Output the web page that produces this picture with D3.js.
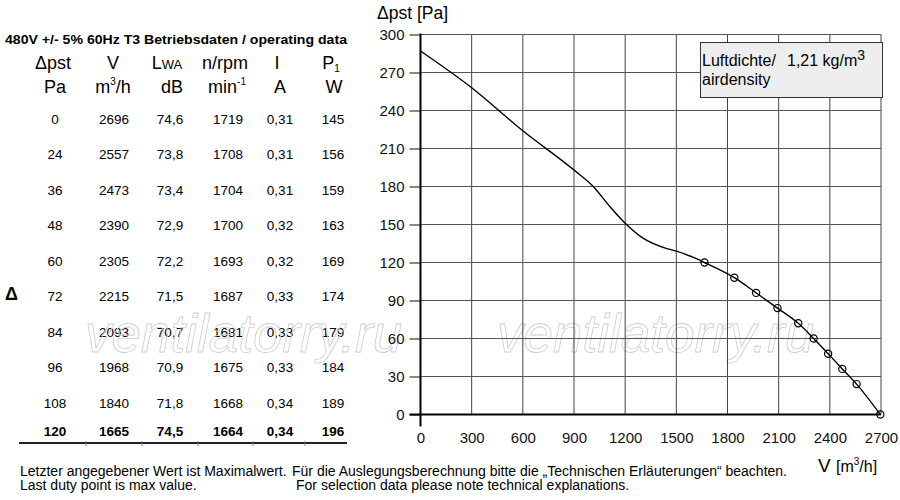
<!DOCTYPE html>
<html>
<head>
<meta charset="utf-8">
<script src="https://cdn.jsdelivr.net/npm/d3@7"></script>
<style>
  body { margin: 0; background: #fff; }
  svg { font-family: "Liberation Sans", Arial, Helvetica, sans-serif; }
</style>
</head>
<body>
<script>
// operating data table
let dp     = [0, 24, 36, 48, 60, 72, 84, 96, 108, 120];
let flow   = [2696, 2557, 2473, 2390, 2305, 2215, 2093, 1968, 1840, 1665];
let lwa    = ["74,6", "73,8", "73,4", "72,9", "72,2", "71,5", "70,7", "70,9", "71,8", "74,5"];
let rpm    = [1719, 1708, 1704, 1700, 1693, 1687, 1681, 1675, 1668, 1664];
let amps   = ["0,31", "0,31", "0,31", "0,32", "0,32", "0,33", "0,33", "0,33", "0,34", "0,34"];
let power  = [145, 156, 159, 163, 169, 174, 179, 184, 189, 196];

// upper part of the fan curve, left of the first duty point
let curveV = [0, 300, 600, 900, 1013, 1111, 1200, 1307, 1444, 1500, 1600];
let curveP = [287, 258, 224, 193, 180, 164, 151, 139, 131, 129, 124];

// axis ticks
let xTicks = [0, 300, 600, 900, 1200, 1500, 1800, 2100, 2400, 2700];
let yTicks = [0, 30, 60, 90, 120, 150, 180, 210, 240, 270, 300];

let width = 900, height = 500;

let svg = d3.select("body").append("svg")
    .attr("width", width).attr("height", height);

// ---------- table ----------
let table = svg.append("g");

table.append("text")
    .attr("x", 5).attr("y", 44)
    .attr("font-size", 13.5).attr("font-weight", "bold")
    .attr("textLength", 342).attr("lengthAdjust", "spacingAndGlyphs")
    .text("480V +/- 5% 60Hz T3 Betriebsdaten / operating data");

let colX = [55, 114, 170, 228, 280, 333];
let colSep = [86, 142, 198, 253, 305];

// header row 1
let h1 = table.append("g").attr("font-size", 18).attr("text-anchor", "middle");
h1.append("text").attr("x", 53).attr("y", 69).text("Δpst");
h1.append("text").attr("x", 113).attr("y", 69).text("V");
let lw = h1.append("text").attr("x", 167).attr("y", 69);
lw.append("tspan").text("L");
lw.append("tspan").attr("font-size", 13).text("WA");
h1.append("text").attr("x", 225).attr("y", 69).text("n/rpm");
h1.append("text").attr("x", 277).attr("y", 69).text("I");
let p1 = h1.append("text").attr("x", 331).attr("y", 69);
p1.append("tspan").text("P");
p1.append("tspan").attr("font-size", 10).attr("dy", 3).text("1");

// header row 2
let h2 = table.append("g").attr("font-size", 18).attr("text-anchor", "middle");
h2.append("text").attr("x", 55).attr("y", 93).text("Pa");
let m3 = h2.append("text").attr("x", 113).attr("y", 93);
m3.append("tspan").text("m");
m3.append("tspan").attr("font-size", 10).attr("dy", -8).text("3");
m3.append("tspan").attr("dy", 8).text("/h");
h2.append("text").attr("x", 172).attr("y", 93).text("dB");
let mn = h2.append("text").attr("x", 227).attr("y", 93);
mn.append("tspan").text("min");
mn.append("tspan").attr("font-size", 10).attr("dy", -8).text("-1");
h2.append("text").attr("x", 280).attr("y", 93).text("A");
h2.append("text").attr("x", 334).attr("y", 93).text("W");

// data rows
let rowY = d3.scaleLinear().domain([0, 8]).range([124, 407.5]);
let rows = dp.map((d, i) => [d, flow[i], lwa[i], rpm[i], amps[i], power[i]]);

let rowG = table.selectAll("g.row").data(rows).enter().append("g")
    .attr("class", "row")
    .attr("font-size", 13.5)
    .attr("text-anchor", "middle")
    .attr("font-weight", (d, i) => i === rows.length - 1 ? "bold" : "normal")
    .attr("transform", (d, i) => "translate(0," + (i < 9 ? rowY(i) : 436) + ")");

rowG.selectAll("text").data(d => d).enter().append("text")
    .attr("x", (d, j) => colX[j])
    .text(d => d);

table.append("text")
    .attr("x", 5).attr("y", 300)
    .attr("font-size", 18).attr("font-weight", "bold")
    .text("Δ");

table.append("line")
    .attr("x1", 19).attr("x2", 347).attr("y1", 443).attr("y2", 443)
    .attr("stroke", "#222").attr("stroke-width", 2);

table.selectAll("line.sep").data(colSep).enter().append("line")
    .attr("class", "sep")
    .attr("x1", d => d).attr("x2", d => d)
    .attr("y1", 441).attr("y2", 446)
    .attr("stroke", "#777").attr("stroke-width", 0.8);

// ---------- footer ----------
let foot = svg.append("g").attr("font-size", 14);
foot.append("text").attr("x", 20).attr("y", 476).text("Letzter angegebener Wert ist Maximalwert.");
foot.append("text").attr("x", 292).attr("y", 476).text("Für die Auslegungsberechnung bitte die „Technischen Erläuterungen“ beachten.");
foot.append("text").attr("x", 20).attr("y", 490).text("Last duty point is max value.");
foot.append("text").attr("x", 296).attr("y", 490).text("For selection data please note technical explanations.");

// ---------- chart ----------
let x = d3.scaleLinear().domain([0, 2700]).range([420.5, 881]);
let y = d3.scaleLinear().domain([0, 300]).range([414.5, 34.5]);

let chart = svg.append("g");

// watermark
chart.selectAll("text.wm").data([85, 497]).enter().append("text")
    .attr("class", "wm")
    .attr("x", d => d).attr("y", 352)
    .attr("font-size", 53).attr("font-style", "italic")
    .attr("fill", "none").attr("stroke", "#cdcdcd").attr("stroke-width", 0.8)
    .text("ventilatorry.ru");

// grid
chart.append("g").selectAll("line").data(xTicks).enter().append("line")
    .attr("x1", d => x(d)).attr("x2", d => x(d))
    .attr("y1", y(0)).attr("y2", y(300))
    .attr("stroke", "#444").attr("stroke-width", 1);

chart.append("g").selectAll("line").data(yTicks).enter().append("line")
    .attr("x1", x(0)).attr("x2", x(2700))
    .attr("y1", d => y(d)).attr("y2", d => y(d))
    .attr("stroke", "#555").attr("stroke-width", 1.2);

// axes
let yAxis = d3.axisLeft(y).tickValues(yTicks).tickSize(11).tickPadding(5);
let yg = chart.append("g")
    .attr("transform", "translate(" + x(0) + ",0)")
    .call(yAxis);
yg.select(".domain").remove();
yg.selectAll(".tick line").attr("stroke", "#111");
yg.selectAll(".tick text").attr("font-size", 15).attr("font-family", null).attr("fill", "#111");

let xAxis = d3.axisBottom(x).tickValues(xTicks).tickSize(0).tickPadding(18)
    .tickFormat(d3.format("d"));
let xg = chart.append("g")
    .attr("transform", "translate(0," + y(0) + ")")
    .call(xAxis);
xg.select(".domain").remove();
xg.selectAll(".tick text").attr("font-size", 15).attr("font-family", null).attr("fill", "#111");

chart.append("line")
    .attr("x1", x(0)).attr("x2", x(0)).attr("y1", y(300) - 1).attr("y2", y(0) + 12)
    .attr("stroke", "#000").attr("stroke-width", 2);
chart.append("line")
    .attr("x1", x(0) - 11).attr("x2", x(2700)).attr("y1", y(0)).attr("y2", y(0))
    .attr("stroke", "#000").attr("stroke-width", 2);

// axis titles
chart.append("text").attr("x", 377).attr("y", 19).attr("font-size", 17.5).text("Δpst [Pa]");
let vt = chart.append("text").attr("x", 818).attr("y", 472).attr("font-size", 16);
vt.append("tspan").attr("font-size", 19).text("V ");
vt.append("tspan").text("[m");
vt.append("tspan").attr("font-size", 10).attr("dy", -7).text("3");
vt.append("tspan").attr("dy", 7).text("/h]");

// fan curve
let pts = curveV.map((v, i) => [v, curveP[i]])
    .concat(flow.map((v, i) => [v, dp[i]]).reverse());

let line = d3.line()
    .x(d => x(d[0])).y(d => y(d[1]))
    .curve(d3.curveMonotoneX);

chart.append("path")
    .attr("d", line(pts))
    .attr("fill", "none").attr("stroke", "#000").attr("stroke-width", 1.4);

chart.selectAll("circle.duty").data(flow).enter().append("circle")
    .attr("class", "duty")
    .attr("cx", d => x(d)).attr("cy", (d, i) => y(dp[i]))
    .attr("r", 3.6)
    .attr("fill", "none").attr("stroke", "#000").attr("stroke-width", 1.2);

// air density box
let box = chart.append("g");
box.append("rect")
    .attr("x", 700.5).attr("y", 42.5).attr("width", 182).attr("height", 55)
    .attr("fill", "#eeeeee").attr("stroke", "#333").attr("stroke-width", 1);
box.append("text").attr("x", 702).attr("y", 66).attr("font-size", 16).text("Luftdichte/");
box.append("text").attr("x", 702).attr("y", 85).attr("font-size", 16).text("airdensity");
let kg = box.append("text").attr("x", 787).attr("y", 66).attr("font-size", 16);
kg.append("tspan").text("1,21 kg/m");
kg.append("tspan").attr("font-size", 14).attr("dy", -6).text("3");
</script>
</body>
</html>
